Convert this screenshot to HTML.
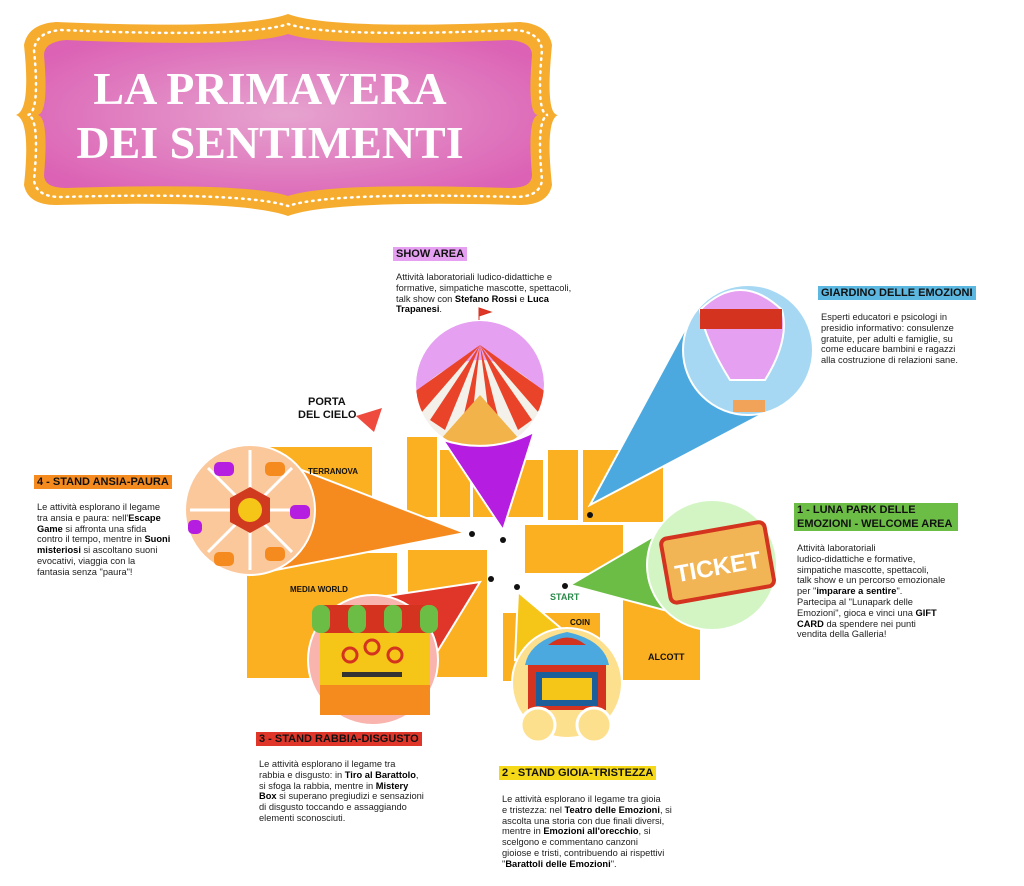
<!DOCTYPE html>
<html><head><meta charset="utf-8"><style>
body{margin:0;background:#fff;width:1024px;height:886px;overflow:hidden;position:relative;font-family:"Liberation Sans",sans-serif}
.t{position:absolute;font-size:9.3px;line-height:10.8px;color:#222;white-space:nowrap}
.h{position:absolute;font-weight:bold;font-size:11px;line-height:14px;color:#111;padding:0 3px}
b{color:#000}
</style></head><body>
<svg width="1024" height="886" style="position:absolute;left:0;top:0">
<defs><radialGradient id="pg" cx="50%" cy="50%" r="60%"><stop offset="0" stop-color="#e6a3cf"/><stop offset="1" stop-color="#dc62b5"/></radialGradient>
<clipPath id="cc"><circle cx="480" cy="385" r="64"/></clipPath></defs>
<!-- banner -->
<path d="M288,14 Q330,30 520,22 Q548,24 552,45 Q545,115 558,115 Q545,120 552,185 Q548,205 520,205 Q330,200 288,216 Q246,200 56,205 Q28,205 24,185 Q31,120 16,115 Q31,110 24,45 Q28,24 56,22 Q246,30 288,14Z" fill="#f6ac2e"/>
<path d="M288,24 Q330,38 515,30 Q540,32 542,50 Q536,115 548,115 Q536,118 542,180 Q540,197 515,197 Q330,192 288,206 Q246,192 61,197 Q36,197 34,180 Q40,118 28,115 Q40,112 34,50 Q36,32 61,30 Q246,38 288,24Z" fill="none" stroke="#fff" stroke-width="2.5" stroke-dasharray="1.5 5" stroke-linecap="round"/>
<path d="M288,34 Q330,48 510,40 Q532,42 532,55 Q527,115 538,115 Q527,118 532,175 Q532,188 510,188 Q330,182 288,196 Q246,182 66,188 Q44,188 44,175 Q49,118 38,115 Q49,112 44,55 Q44,42 66,40 Q246,48 288,34Z" fill="url(#pg)"/>
<text x="270" y="104" text-anchor="middle" font-family="Liberation Serif" font-weight="bold" font-size="46" fill="#fff">LA PRIMAVERA</text>
<text x="270" y="158" text-anchor="middle" font-family="Liberation Serif" font-weight="bold" font-size="46" fill="#fff">DEI SENTIMENTI</text>
<!-- map blocks -->
<g fill="#fbb022">
<rect x="247" y="447" width="125" height="50"/>
<rect x="247" y="553" width="150" height="125"/>
<rect x="407" y="437" width="30" height="80"/>
<rect x="440" y="450" width="30" height="67"/>
<rect x="473" y="460" width="70" height="57"/>
<rect x="548" y="450" width="30" height="70"/>
<rect x="583" y="450" width="80" height="72"/>
<rect x="525" y="525" width="98" height="48"/>
<rect x="408" y="550" width="79" height="127"/>
<rect x="503" y="613" width="97" height="68"/>
<rect x="623" y="600" width="77" height="80"/>
</g>
<path d="M356,416 L382,408 L374,432Z" fill="#ef4a3e"/>
<!-- cones -->
<path d="M590,505 L690,320 L770,410Z" fill="#4ba9e0" stroke="#fff" stroke-width="2"/>
<path d="M465,533 L250,450 L250,575Z" fill="#f58a1f" stroke="#fff" stroke-width="2"/>
<path d="M570,585 L690,515 L720,625Z" fill="#6cbd45" stroke="#fff" stroke-width="2"/>
<path d="M480,582 L360,600 L420,680Z" fill="#e0362a" stroke="#fff" stroke-width="2"/>
<path d="M518,592 L515,660 L575,640Z" fill="#f5c518" stroke="#fff" stroke-width="2"/>
<!-- circus -->
<circle cx="480" cy="385" r="65" fill="#fff"/>
<g clip-path="url(#cc)">
<rect x="410" y="315" width="140" height="140" fill="#e6a0f1"/>
<path d="M410,400 Q480,320 550,400 L550,460 L410,460Z" fill="#f4f1ea"/>
<g fill="#e9432a">
<path d="M480,345 L410,395 L415,420Z"/><path d="M480,345 L430,420 L445,430Z"/><path d="M480,345 L458,440 L470,440Z"/>
<path d="M480,345 L492,440 L504,440Z"/><path d="M480,345 L518,430 L532,420Z"/><path d="M480,345 L545,420 L550,395Z"/>
</g>
<path d="M440,440 L480,395 L520,440 Q480,455 440,440Z" fill="#f2b44a"/>
</g>
<circle cx="480" cy="385" r="65" fill="none" stroke="#fff" stroke-width="2"/>
<path d="M503,530 L443,440 Q490,455 534,432Z" fill="#b51ee0" stroke="#fff" stroke-width="2"/>
<path d="M479,320 v-12 l12,4 l-12,4" fill="#e0362a" stroke="#d3331f"/>
<!-- balloon -->
<circle cx="748" cy="350" r="65" fill="#a7d8f3" stroke="#fff" stroke-width="2"/>
<path d="M700,310 Q740,270 782,310 Q790,340 765,380 L730,380 Q705,340 700,310Z" fill="#e6a0f1" stroke="#fff" stroke-width="2"/>
<rect x="700" y="309" width="82" height="20" fill="#d3331f"/>
<rect x="733" y="400" width="32" height="12" fill="#f2a35a"/>
<!-- wheel -->
<circle cx="250" cy="510" r="65" fill="#fbc89c" stroke="#fff" stroke-width="2"/>
<g stroke="#fff" stroke-width="3"><line x1="250" y1="450" x2="250" y2="570"/><line x1="190" y1="510" x2="310" y2="510"/><line x1="208" y1="468" x2="292" y2="552"/><line x1="292" y1="468" x2="208" y2="552"/></g>
<polygon points="250,487 270,498 270,522 250,533 230,522 230,498" fill="#d03a1f"/>
<circle cx="250" cy="510" r="12" fill="#f5c518"/>
<g fill="#b51ee0"><rect x="214" y="462" width="20" height="14" rx="5"/><rect x="290" y="505" width="20" height="14" rx="5"/><rect x="188" y="520" width="14" height="14" rx="5"/></g>
<g fill="#f58a1f"><rect x="265" y="462" width="20" height="14" rx="5"/><rect x="265" y="547" width="20" height="14" rx="5"/><rect x="214" y="552" width="20" height="14" rx="5"/></g>
<!-- ticket -->
<circle cx="712" cy="565" r="65" fill="#d3f5c4" stroke="#fff" stroke-width="2"/>
<rect x="665" y="530" width="105" height="65" rx="6" fill="#f2b555" stroke="#d3331f" stroke-width="4" transform="rotate(-10 717 562)"/>
<text x="717" y="575" text-anchor="middle" font-size="24" font-weight="bold" fill="#fff" transform="rotate(-10 717 562)">TICKET</text>
<!-- stand -->
<circle cx="373" cy="660" r="65" fill="#f8b4ad" stroke="#fff" stroke-width="2"/>
<rect x="320" y="630" width="110" height="80" fill="#f5c518"/>
<rect x="312" y="605" width="126" height="28" rx="10" fill="#d3331f"/>
<g fill="#6cbd45"><rect x="312" y="605" width="18" height="28" rx="8"/><rect x="348" y="605" width="18" height="28" rx="8"/><rect x="384" y="605" width="18" height="28" rx="8"/><rect x="420" y="605" width="18" height="28" rx="8"/></g>
<g fill="none" stroke="#d3331f" stroke-width="3"><circle cx="350" cy="655" r="7"/><circle cx="372" cy="647" r="7"/><circle cx="395" cy="655" r="7"/></g>
<rect x="342" y="672" width="60" height="5" fill="#333"/>
<rect x="320" y="685" width="110" height="30" fill="#f58a1f"/>
<!-- theatre -->
<circle cx="567" cy="683" r="55" fill="#fde08e" stroke="#fff" stroke-width="2"/>
<path d="M525,665 Q530,640 567,632 Q604,640 609,665Z" fill="#4ba9e0"/>
<path d="M548,645 Q567,630 586,645Z" fill="#d3331f"/>
<rect x="528" y="665" width="78" height="45" fill="#d3331f"/>
<rect x="536" y="672" width="62" height="34" fill="#1b5e9a"/>
<rect x="542" y="678" width="50" height="22" fill="#f5c518"/>
<circle cx="538" cy="725" r="17" fill="#fde08e" stroke="#fff" stroke-width="3"/>
<circle cx="594" cy="725" r="17" fill="#fde08e" stroke="#fff" stroke-width="3"/>
<!-- dots -->
<g fill="#111"><circle cx="472" cy="534" r="3"/><circle cx="503" cy="540" r="3"/><circle cx="590" cy="515" r="3"/><circle cx="491" cy="579" r="3"/><circle cx="517" cy="587" r="3"/><circle cx="565" cy="586" r="3"/></g>
<g font-weight="bold" fill="#111">
<text x="308" y="405" font-size="11">PORTA</text><text x="298" y="418" font-size="11">DEL CIELO</text>
<text x="308" y="474" font-size="8">TERRANOVA</text>
<text x="290" y="592" font-size="8">MEDIA WORLD</text>
<text x="550" y="600" font-size="9" fill="#2a8a4a">START</text>
<text x="570" y="625" font-size="8">COIN</text>
<text x="648" y="660" font-size="9">ALCOTT</text>
</g>
</svg>
<div class="h" style="left:393px;top:247px;background:#e6a0f1">SHOW AREA</div>
<div class="t" style="left:396px;top:272px">Attività laboratoriali ludico-didattiche e<br>formative, simpatiche mascotte, spettacoli,<br>talk show con <b>Stefano Rossi</b> e <b>Luca</b><br><b>Trapanesi</b>.</div>
<div class="h" style="left:818px;top:286px;background:#5cb8e0">GIARDINO DELLE EMOZIONI</div>
<div class="t" style="left:821px;top:312px">Esperti educatori e psicologi in<br>presidio informativo: consulenze<br>gratuite, per adulti e famiglie, su<br>come educare bambini e ragazzi<br>alla costruzione di relazioni sane.</div>
<div class="h" style="left:34px;top:475px;background:#f58a1f">4 - STAND ANSIA-PAURA</div>
<div class="t" style="left:37px;top:502px">Le attività esplorano il legame<br>tra ansia e paura: nell'<b>Escape</b><br><b>Game</b> si affronta una sfida<br>contro il tempo, mentre in <b>Suoni</b><br><b>misteriosi</b> si ascoltano suoni<br>evocativi, viaggia con la<br>fantasia senza "paura"!</div>
<div class="h" style="left:794px;top:503px;background:#6cbd45;width:158px">1 - LUNA PARK DELLE EMOZIONI - WELCOME AREA</div>
<div class="t" style="left:797px;top:543px">Attività laboratoriali<br>ludico-didattiche e formative,<br>simpatiche mascotte, spettacoli,<br>talk show e un percorso emozionale<br>per "<b>imparare a sentire</b>".<br>Partecipa al "Lunapark delle<br>Emozioni", gioca e vinci una <b>GIFT</b><br><b>CARD</b> da spendere nei punti<br>vendita della Galleria!</div>
<div class="h" style="left:256px;top:732px;background:#e0362a">3 - STAND RABBIA-DISGUSTO</div>
<div class="t" style="left:259px;top:759px">Le attività esplorano il legame tra<br>rabbia e disgusto: in <b>Tiro al Barattolo</b>,<br>si sfoga la rabbia, mentre in <b>Mistery</b><br><b>Box</b> si superano pregiudizi e sensazioni<br>di disgusto toccando e assaggiando<br>elementi sconosciuti.</div>
<div class="h" style="left:499px;top:766px;background:#f5d818">2 - STAND GIOIA-TRISTEZZA</div>
<div class="t" style="left:502px;top:794px">Le attività esplorano il legame tra gioia<br>e tristezza: nel <b>Teatro delle Emozioni</b>, si<br>ascolta una storia con due finali diversi,<br>mentre in <b>Emozioni all'orecchio</b>, si<br>scelgono e commentano canzoni<br>gioiose e tristi, contribuendo ai rispettivi<br>"<b>Barattoli delle Emozioni</b>".</div>
</body></html>
